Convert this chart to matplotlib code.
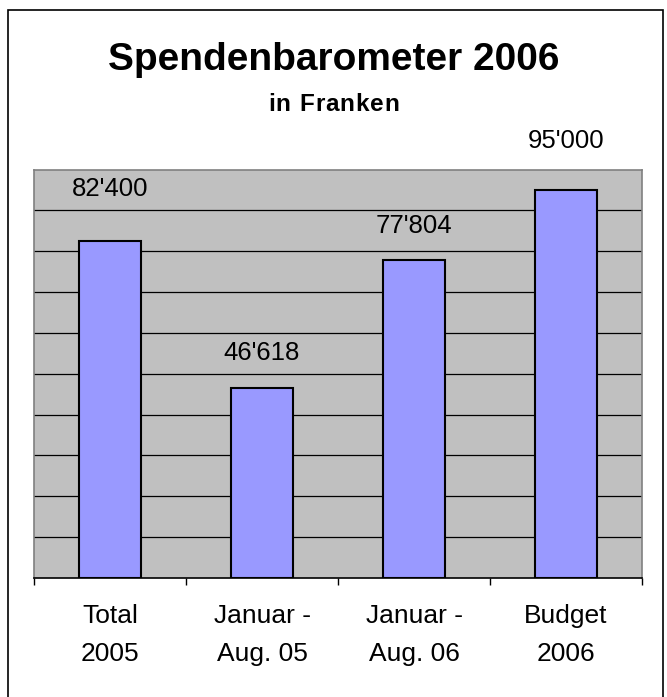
import matplotlib
matplotlib.use("Agg")
import matplotlib.pyplot as plt
from matplotlib.patches import Rectangle

categories = ["Total\n2005", "Januar -\nAug. 05", "Januar -\nAug. 06", "Budget\n2006"]
values = [82400, 46618, 77804, 95000]
value_labels = ["82'400", "46'618", "77'804", "95'000"]
title = "Spendenbarometer 2006"
subtitle = "in Franken"

# label vertical offsets above bar top (pixels)
label_offsets_px = [52, 35, 34, 49]

W, H = 667, 697
DPI = 100
fig = plt.figure(figsize=(W / DPI, H / DPI), dpi=DPI)
plt.rcParams['font.family'] = ['Liberation Sans', 'DejaVu Sans']

# outer border (bottom edge lies outside the picture)
fig.patches.append(Rectangle((8 / W, 1 - 705 / H), (663 - 8) / W, (705 - 10) / H,
                             transform=fig.transFigure, fill=False,
                             edgecolor='black', linewidth=1.2, clip_on=False))

left, right, top, bottom = 34, 642, 169.5, 578
ax = fig.add_axes([left / W, 1 - bottom / H, (right - left) / W, (bottom - top) / H])
ax.set_facecolor('#C0C0C0')
x = range(len(values))
ax.bar(x, values, width=0.41, color='#9999FF', edgecolor='black', linewidth=1.5, zorder=3)
ax.set_xlim(-0.5, len(values) - 0.5)
ax.set_ylim(0, 100000)
ax.set_yticks(range(10000, 100000, 10000))
ax.yaxis.grid(True, color='black', linewidth=0.9, zorder=0)
ax.tick_params(axis='y', left=False, labelleft=False)
ax.set_xticks([i + 0.5 for i in range(-1, len(values))], minor=False)
ax.set_xticklabels([])
ax.tick_params(axis='x', direction='out', length=5, color='black', width=1)
ax.set_xticks(list(x), minor=True)
ax.set_xticklabels(categories, minor=True, fontsize=19, linespacing=1.72)
ax.tick_params(axis='x', which='minor', length=0, pad=19)
for s in ['top', 'right', 'left']:
    ax.spines[s].set_color('#808080')
    ax.spines[s].set_linewidth(1.2)
ax.spines['bottom'].set_color('black')
ax.spines['bottom'].set_linewidth(1.2)

for i, (v, lab, off) in enumerate(zip(values, value_labels, label_offsets_px)):
    ax.annotate(lab, (i, v), xytext=(0, off * 72 / DPI), textcoords='offset points',
                ha='center', va='center', fontsize=18.5, zorder=5, annotation_clip=False)

fig.text(0.5, 1 - 60 / H, title, ha='center', va='center', fontsize=28, fontweight='bold')

# subtitle with slight letter spacing
fig.canvas.draw()
renderer = fig.canvas.get_renderer()
sub_size = 17.5
spacing = 0.8
widths = []
for ch in subtitle:
    t = fig.text(0, 0, ch if ch != ' ' else 'n', fontsize=sub_size, fontweight='bold')
    bb = t.get_window_extent(renderer)
    widths.append(bb.width * (0.5 if ch == ' ' else 1.0))
    t.remove()
total = sum(widths) + spacing * (len(subtitle) - 1)
xpos = (W - total) / 2
for ch, w in zip(subtitle, widths):
    if ch != ' ':
        fig.text(xpos / W, 1 - 111 / H, ch, ha='left', va='baseline',
                 fontsize=sub_size, fontweight='bold')
    xpos += w + spacing

fig.savefig("out.png", dpi=DPI)
